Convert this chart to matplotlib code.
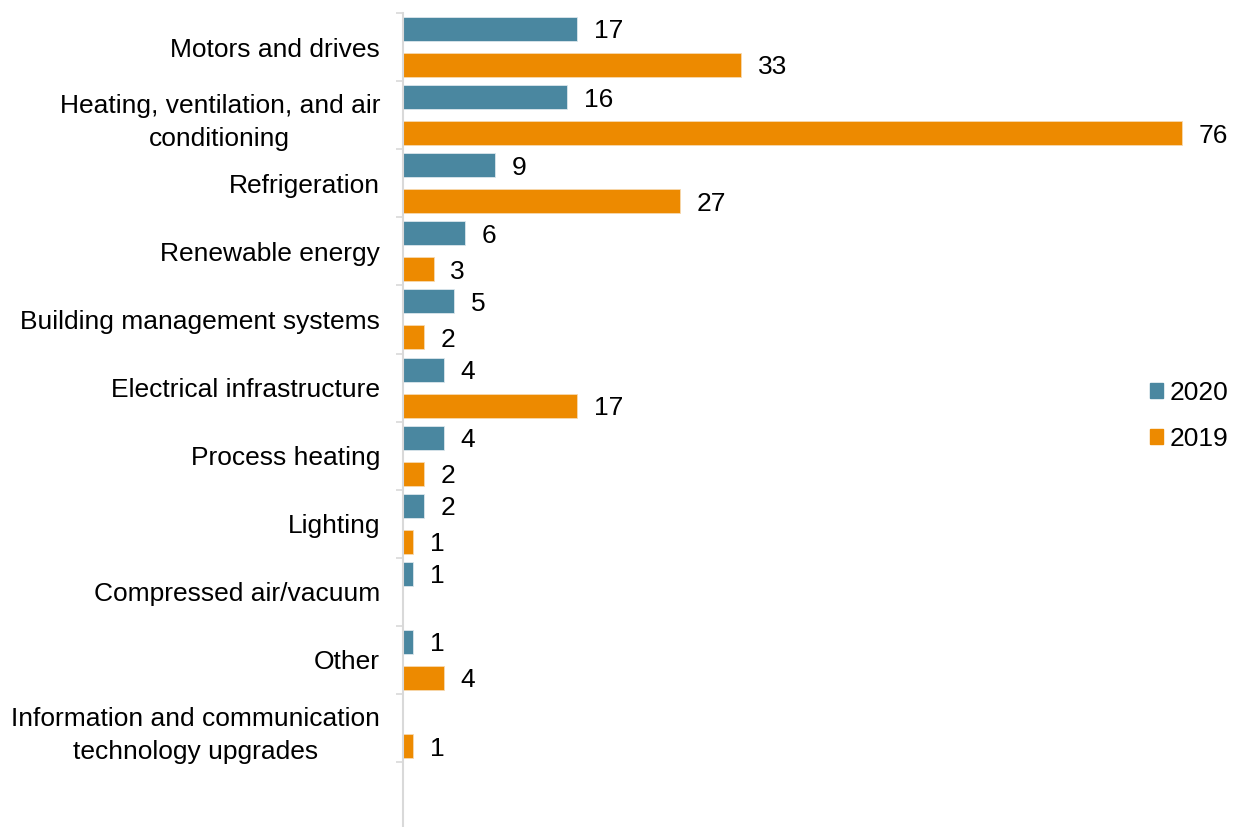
import numpy as np
import matplotlib.pyplot as plt
from matplotlib.patches import Patch

plt.rcParams['font.family'] = ['Liberation Sans', 'DejaVu Sans']

categorias = [
    "Motors and drives",
    "Heating, ventilation, and air\nconditioning",
    "Refrigeration",
    "Renewable energy",
    "Building management systems",
    "Electrical infrastructure",
    "Process heating",
    "Lighting",
    "Compressed air/vacuum",
    "Other",
    "Information and communication\ntechnology upgrades",
]
valores_2020 = [17, 16, 9, 6, 5, 4, 4, 2, 1, 1, np.nan]
valores_2019 = [33, 76, 27, 3, 2, 17, 2, 1, np.nan, 4, 1]

cor_2020 = '#4a87a0'
cor_2019 = '#ed8a00'
tam = 19

fig = plt.figure(figsize=(12.37, 8.27), dpi=100)
ax = fig.add_axes([403 / 1237, 0, 820 / 1237, 814 / 827])

n = len(categorias)
base = np.arange(n)
altura = 24 / 68.1
y20 = base + 16 / 68.1
y19 = base + 52 / 68.1

ax.barh(y20, valores_2020, height=altura, color=cor_2020, edgecolor='#dbe7ec', linewidth=0.6)
ax.barh(y19, valores_2019, height=altura, color=cor_2019, edgecolor='#f7d9b0', linewidth=0.6)

# rótulos de valor
for y, v in zip(y20, valores_2020):
    if not np.isnan(v):
        ax.annotate(f"{v:g}", (v, y), xytext=(12, 0), textcoords='offset points',
                    va='center_baseline', ha='left', fontsize=tam)
for y, v in zip(y19, valores_2019):
    if not np.isnan(v):
        ax.annotate(f"{v:g}", (v, y), xytext=(12, 0), textcoords='offset points',
                    va='center_baseline', ha='left', fontsize=tam)

ax.set_xlim(0, 80)
ax.set_ylim(814 / 68.1, 0)

ax.set_yticks(base + 0.5)
ax.set_yticklabels(categorias, fontsize=tam, linespacing=1.5, multialignment='center')
ax.tick_params(axis='y', which='major', length=0, pad=16.5)
ax.set_yticks(np.arange(n + 1), minor=True)
ax.tick_params(axis='y', which='minor', length=5, color='#d9d9d9', width=1.2)
ax.set_xticks([])

for lado in ['top', 'right', 'bottom']:
    ax.spines[lado].set_visible(False)
ax.spines['left'].set_color('#d9d9d9')
ax.spines['left'].set_linewidth(1.5)

legenda = [Patch(color=cor_2020, label='2020'), Patch(color=cor_2019, label='2019')]
fig.legend(handles=legenda, loc='center left', bbox_to_anchor=(1150 / 1237, 1 - 416 / 827),
           frameon=False, fontsize=tam, handlelength=0.5, handleheight=0.5,
           handletextpad=0.25, labelspacing=0.85, borderaxespad=0, borderpad=0)

fig.savefig('out.png', dpi=100)
